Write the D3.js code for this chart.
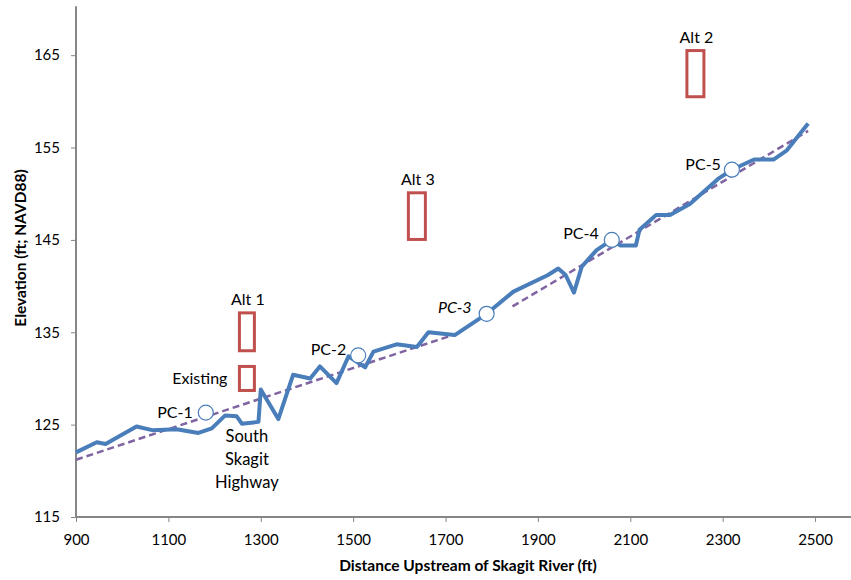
<!DOCTYPE html>
<html>
<head>
<meta charset="utf-8">
<script src="https://cdn.jsdelivr.net/npm/d3@7"></script>
<style>
  html, body { margin: 0; padding: 0; background: #fff; }
  svg { display: block; font-family: Lato, "Open Sans", sans-serif; }
</style>
</head>
<body>
<svg id="chart" width="851" height="580"></svg>
<script>
// Longitudinal channel profile (distance upstream, ft) and thalweg elevation (ft NAVD88)
const profileDistance = [900, 945, 964, 1031, 1065, 1118, 1165, 1194, 1223, 1248, 1259, 1295, 1300,
  1338, 1370, 1407, 1428, 1464, 1490, 1526, 1544, 1594, 1638, 1663, 1720, 1789, 1847, 1922, 1944,
  1960, 1978, 1995, 2027, 2060, 2078, 2112, 2120, 2156, 2186, 2229, 2290, 2320, 2368, 2410, 2439, 2485];
const profileElevation = [122.0, 123.1, 122.9, 124.8, 124.4, 124.5, 124.1, 124.6, 126.0, 125.9, 125.1, 125.3, 128.8,
  125.6, 130.4, 130.0, 131.3, 129.5, 132.4, 131.2, 132.9, 133.7, 133.4, 135.0, 134.7, 137.0, 139.4, 141.2, 141.9,
  141.2, 139.3, 142.1, 143.9, 145.0, 144.4, 144.4, 146.1, 147.7, 147.7, 148.9, 151.6, 152.6, 153.7, 153.7, 154.7, 157.6];

// Profile control points
const controlNames = ["PC-1", "PC-2", "PC-3", "PC-4", "PC-5"];
const controlDistance = [1181, 1511, 1789, 2060, 2320];
const controlElevation = [126.3, 132.5, 137.0, 145.0, 152.6];

// Grade lines for the lower and upper reaches
const lowerGradeDistance = [900, 1716];
const lowerGradeElevation = [121.2, 134.7];
const upperGradeDistance = [1845, 2485];
const upperGradeElevation = [137.8, 156.8];

// Crossing elevation ranges (existing and alternatives)
const crossingNames = ["Existing", "Alt 1", "Alt 3", "Alt 2"];
const crossingDistance = [1270, 1270, 1638, 2241];
const crossingLow = [128.7, 133.0, 145.05, 160.5];
const crossingHigh = [131.3, 137.1, 150.1, 165.5];

const highwayLabel = ["South", "Skagit", "Highway"];
const highwayDistance = 1270;

const xTicks = [900, 1100, 1300, 1500, 1700, 1900, 2100, 2300, 2500];
const yTicks = [115, 125, 135, 145, 155, 165];

const svg = d3.select("#chart");
const x = d3.scaleLinear().domain([900, 2580]).range([76, 852]);
const y = d3.scaleLinear().domain([115, 170]).range([517, 9]);

const axisColor = "#868686";

// Axes
const xAxis = svg.append("g").attr("transform", `translate(0,${y(115)})`)
  .call(d3.axisBottom(x).tickValues(xTicks).tickSize(5).tickPadding(12).tickFormat(d3.format("d")));
const yAxis = svg.append("g").attr("transform", `translate(${x(900)},0)`)
  .call(d3.axisLeft(y).tickValues(yTicks).tickSize(5).tickPadding(11).tickFormat(d3.format("d")));
[xAxis, yAxis].forEach(g => {
  g.select(".domain").attr("stroke", axisColor).attr("stroke-width", 2);
  g.selectAll(".tick line").attr("stroke", axisColor).attr("stroke-width", 1);
  g.selectAll(".tick text").attr("fill", "#000").style("font-size", "15px").style("font-family", "Lato, sans-serif");
});
xAxis.select(".domain").attr("d", `M${x(900)},0H851`);
yAxis.select(".domain").attr("d", `M0,${y(115)}V${y(170.3)}`);

// Axis titles
svg.append("text").attr("x", 468).attr("y", 571).attr("text-anchor", "middle")
  .style("font-size", "15.5px").style("font-weight", "bold").text("Distance Upstream of Skagit River (ft)");
svg.append("text").attr("transform", "translate(26,248) rotate(-90)").attr("text-anchor", "middle")
  .style("font-size", "15.5px").style("font-weight", "bold").text("Elevation (ft; NAVD88)");

// Grade lines (dashed)
const line = d3.line().x(d => x(d[0])).y(d => y(d[1]));
[[lowerGradeDistance, lowerGradeElevation], [upperGradeDistance, upperGradeElevation]].forEach(([ds, es]) => {
  svg.append("path").datum(ds.map((d, i) => [d, es[i]])).attr("d", line)
    .attr("fill", "none").attr("stroke", "#8064A2").attr("stroke-width", 2.5).attr("stroke-dasharray", "7,4");
});

// Channel profile
svg.append("path").datum(profileDistance.map((d, i) => [d, profileElevation[i]])).attr("d", line)
  .attr("fill", "none").attr("stroke", "#4A7EBB").attr("stroke-width", 4).attr("stroke-linejoin", "round");

// Control points
const pcOffsets = [[-13, 5], [-12, 0], [-15, -1], [-13, -1], [-11, 0]];
controlNames.forEach((name, i) => {
  const cx = x(controlDistance[i]), cy = y(controlElevation[i]);
  svg.append("circle").attr("cx", cx).attr("cy", cy).attr("r", 7.5)
    .attr("fill", "#fff").attr("stroke", "#4A7EBB").attr("stroke-width", 1.2);
  svg.append("text").attr("x", cx + pcOffsets[i][0]).attr("y", cy + pcOffsets[i][1])
    .attr("text-anchor", "end").style("font-size", "16px")
    .style("font-style", name === "PC-3" ? "italic" : "normal").text(name);
});

// Crossing ranges
crossingNames.forEach((name, i) => {
  const cx = x(crossingDistance[i]);
  const top = y(crossingHigh[i]), bot = y(crossingLow[i]);
  const w = name === "Existing" || name === "Alt 1" ? 15 : 17;
  svg.append("rect").attr("x", cx - w / 2).attr("y", top).attr("width", w).attr("height", bot - top)
    .attr("fill", "none").attr("stroke", "#C0504D").attr("stroke-width", 3);
  if (name === "Existing") {
    svg.append("text").attr("x", cx - w / 2 - 12).attr("y", (top + bot) / 2 + 6)
      .attr("text-anchor", "end").style("font-size", "16px").text(name);
  } else {
    svg.append("text").attr("x", cx + 1).attr("y", top - 8)
      .attr("text-anchor", "middle").style("font-size", "16px").text(name);
  }
});

// Highway label
highwayLabel.forEach((t, i) => {
  svg.append("text").attr("x", x(highwayDistance)).attr("y", 442 + i * 23)
    .attr("text-anchor", "middle").style("font-size", "16.5px").text(t);
});
</script>
</body>
</html>
